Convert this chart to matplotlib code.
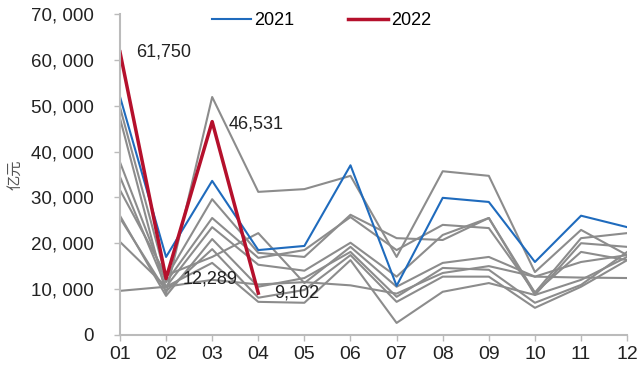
import numpy as np
import matplotlib.pyplot as plt

plt.rcParams['font.family'] = ['Noto Sans CJK SC', 'DejaVu Sans']

# data (亿元)
months = ['01', '02', '03', '04', '05', '06', '07', '08', '09', '10', '11', '12']
history = [
    [47300, 9000, 51900, 31200, 31800, 34700, 17000, 35700, 34700, 13700, 22900, 17400],
    [49700, 12500, 29600, 17900, 17000, 26200, 21100, 20700, 25500, 8700, 20000, 19200],
    [37700, 11500, 25500, 16800, 18500, 25700, 18500, 24000, 23300, 9200, 21100, 22200],
    [34500, 10500, 23500, 15300, 14000, 20100, 12700, 21800, 25500, 9200, 18100, 16300],
    [31600, 13000, 17000, 22200, 11300, 19200, 10500, 15700, 17000, 12700, 15900, 17400],
    [26000, 8500, 20900, 10500, 12400, 18100, 8300, 14600, 14200, 7000, 10900, 18100],
    [25500, 9500, 18700, 8100, 9800, 17400, 7200, 12700, 12700, 5900, 10500, 16300],
    [20300, 10500, 15700, 7200, 7000, 16300, 2600, 9400, 11300, 8700, 12000, 17000],
    [9600, 10500, 12000, 11000, 11500, 10800, 9000, 13500, 15000, 12700, 12500, 12400],
]
y2021 = [52000, 17000, 33600, 18500, 19400, 37000, 10700, 29900, 29000, 15900, 26000, 23500]
y2022 = [61750, 12289, 46531, 9102]

fig = plt.figure(figsize=(6.38, 3.70), dpi=100)
ax = fig.add_axes([0.188, 0.095, 0.795, 0.867])
x = np.arange(len(months))

for h in history:
    ax.plot(x, h, color='#8c8c8c', lw=1.5)
ax.plot(x, y2021, color='#1f6bbd', lw=1.5, label='2021')
ax.plot(x[:len(y2022)], y2022, color='#b5102c', lw=2.5, label='2022')

# labels on 2022
offsets = [(0.35, 0), (0.35, 0), (0.35, -500), (0.35, 0)]
for i, v in enumerate(y2022):
    dx, dy = offsets[i]
    ax.text(x[i] + dx, v + dy, f'{v:,}', fontsize=13, va='center', ha='left',
            family='Liberation Sans', color='#222222')

ax.set_xlim(0, 11)
ax.set_ylim(0, 70000)
ax.set_xticks(x)
ax.set_xticklabels(months)
ax.set_yticks(np.arange(0, 70001, 10000))
ax.set_yticklabels(['0'] + [f'{v:,}'.replace(',', ', ') for v in range(10000, 70001, 10000)])
ax.tick_params(colors='#bbbbbb', labelcolor='#222222', length=4, width=1)
ax.tick_params(axis='y', labelsize=13.5, pad=15)
ax.tick_params(axis='x', labelsize=14, pad=4)
for t in ax.get_xticklabels() + ax.get_yticklabels():
    t.set_family('Liberation Sans')
ax.set_ylabel('亿元', fontsize=11, color='#555555', fontweight='light')
ax.yaxis.set_label_coords(-0.191, 0.5)

for s in ['top', 'right']:
    ax.spines[s].set_visible(False)
for s in ['left', 'bottom']:
    ax.spines[s].set_color('#bbbbbb')
    ax.spines[s].set_linewidth(1.5)

leg = ax.legend(loc='upper left', bbox_to_anchor=(0.149, 1.056), ncol=2, frameon=False,
                fontsize=13, handlelength=2.2, handletextpad=0.15, columnspacing=3.0)
for t in leg.get_texts():
    t.set_family('Liberation Sans')

fig.savefig('out.png', dpi=100)
